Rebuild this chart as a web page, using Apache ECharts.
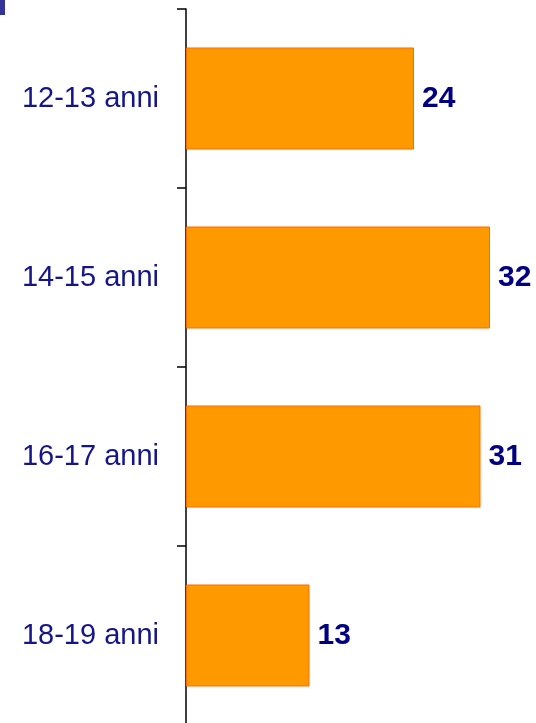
<!DOCTYPE html>
<html>
<head>
<meta charset="utf-8">
<script src="https://cdn.jsdelivr.net/npm/echarts@6/dist/echarts.min.js"></script>
<style>
  html, body { margin: 0; padding: 0; background: #fff; }
  #chart { width: 536px; height: 723px; }
</style>
</head>
<body>
<div id="chart"></div>
<script>
// fasce d'età, dall'alto in basso
const categories = ["12-13 anni", "14-15 anni", "16-17 anni", "18-19 anni"];
const values = [24, 32, 31, 13];

const chart = echarts.init(document.getElementById("chart"));

const option = {
  animation: false,
  graphic: [
    {
      type: "rect",
      left: 0,
      top: 0,
      shape: { width: 5, height: 15 },
      style: { fill: "#333399" },
    },
  ],
  grid: {
    left: 186,
    top: 9,
    width: 380, // 9.5 px per unità, 0..40
    height: 716,
    outerBoundsMode: "none", // la griglia esce dal riquadro come nell'originale
  },
  xAxis: {
    type: "value",
    min: 0,
    max: 40,
    show: false,
  },
  yAxis: {
    type: "category",
    data: categories,
    inverse: true,
    axisLine: { show: true, lineStyle: { color: "#000", width: 1.5 } },
    axisTick: { show: true, length: 9, lineStyle: { color: "#000", width: 1.5 } },
    axisLabel: {
      margin: 27,
      color: "#15158a",
      fontFamily: "Arial, Liberation Sans",
      fontSize: 29,
    },
    splitLine: { show: false },
  },
  series: [
    {
      type: "bar",
      data: values,
      barCategoryGap: "43%",
      itemStyle: {
        color: "#ff9900",
        borderColor: "#ff6a00",
        borderWidth: 1,
      },
      label: {
        show: true,
        position: "right",
        distance: 8,
        color: "#000080",
        fontFamily: "Arial, Liberation Sans",
        fontWeight: "bold",
        fontSize: 30,
      },
    },
  ],
};

chart.setOption(option);
</script>
</body>
</html>
